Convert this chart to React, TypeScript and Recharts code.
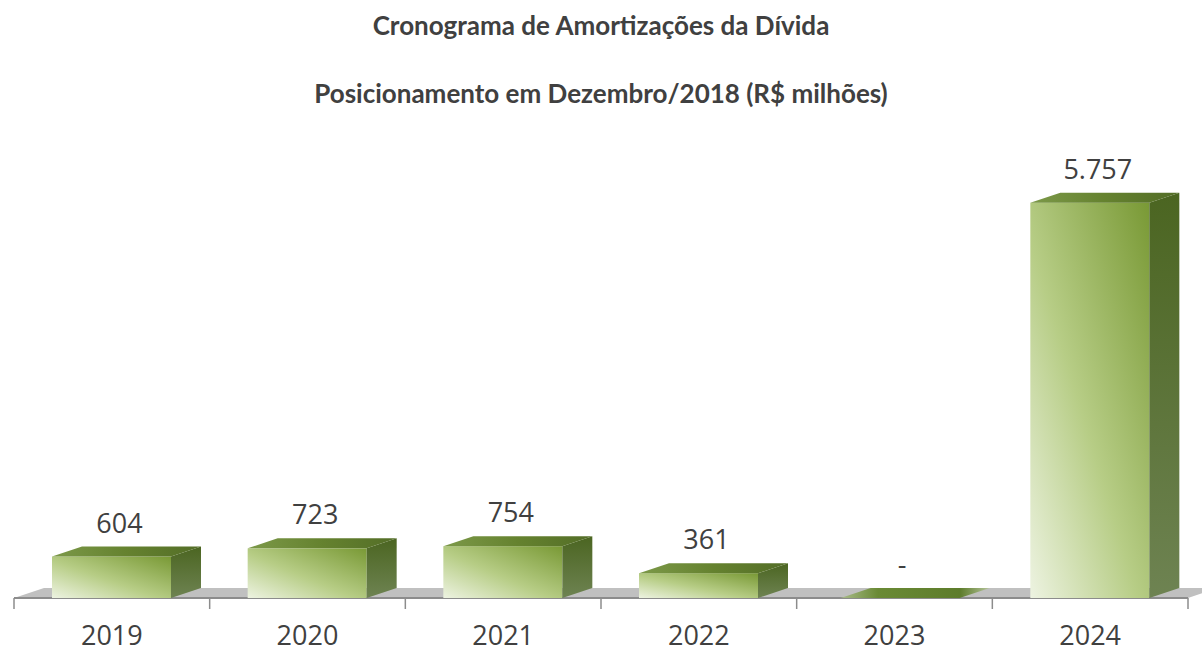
import React from 'react';
import { BarChart, Bar, XAxis, YAxis, LabelList } from 'recharts';

const categories = ['2019', '2020', '2021', '2022', '2023', '2024'];
const amortizations = [604, 723, 754, 361, 0, 5757];
const titleLines = ['Cronograma de Amortizações da Dívida', 'Posicionamento em Dezembro/2018 (R$ milhões)'];

const W = 1202;
const H = 651;
const M = { top: 186, right: 14, bottom: 0, left: 14 };
const AXIS_H = 53;
const FLOOR_Y = H - M.bottom - AXIS_H;
const DX = 30;
const DY = 10;
const TEXT = '#404040';

const data = categories.map((year, i) => ({ year, value: amortizations[i] }));

const fmt = (v: number) => (v === 0 ? '-' : String(v).replace(/\B(?=(\d{3})+(?!\d))/g, '.'));

const Box3D = (props: any) => {
  const { x, y, width, height } = props;
  const top = y;
  const bottom = y + height;
  if (!height || height <= 0) {
    // zero value: only the flat slab on the floor
    const b = FLOOR_Y;
    const sx = x + 6;
    return (
      <polygon
        points={`${sx},${b} ${sx + width},${b} ${sx + width + DX},${b - DY} ${sx + DX},${b - DY}`}
        fill="url(#slab)"
      />
    );
  }
  return (
    <g>
      <rect x={x} y={top} width={width} height={height} fill="url(#frontFace)" />
      <polygon
        points={`${x + width},${top} ${x + width + DX},${top - DY} ${x + width + DX},${bottom - DY} ${x + width},${bottom}`}
        fill="url(#sideFace)"
      />
      <polygon
        points={`${x},${top} ${x + width},${top} ${x + width + DX},${top - DY} ${x + DX},${top - DY}`}
        fill="url(#topFace)"
      />
    </g>
  );
};

const ValueLabel = (props: any) => {
  const { x, y, width, value } = props;
  return (
    <text x={x + width / 2 + 8} y={y - DY - 14} textAnchor="middle" fill={TEXT} fontSize={27} fontFamily="Open Sans">
      {fmt(value)}
    </text>
  );
};

const YearTick = (props: any) => {
  const { x, payload } = props;
  return (
    <text x={x} y={FLOOR_Y + 47} textAnchor="middle" fill={TEXT} fontSize={27} fontFamily="Open Sans">
      {payload.value}
    </text>
  );
};

const Floor = () => {
  const left = M.left;
  const right = W - M.right;
  const cat = (right - left) / categories.length;
  const ticks = Array.from({ length: categories.length + 1 }, (_, i) => left + i * cat);
  return (
    <svg width={W} height={H} style={{ position: 'absolute', left: 0, top: 0 }}>
      {titleLines.map((t, i) => (
        <text key={t} x={W / 2} y={35 + i * 68} textAnchor="middle" fill={TEXT} fontSize={26} fontWeight="bold" fontFamily="Lato">
          {t}
        </text>
      ))}
      <polygon
        points={`${left},${FLOOR_Y} ${right},${FLOOR_Y} ${right + DX},${FLOOR_Y - DY} ${left + DX},${FLOOR_Y - DY}`}
        fill="#c0c0c0"
      />
      <line x1={left} x2={right} y1={FLOOR_Y} y2={FLOOR_Y} stroke="#8c8c8c" strokeWidth={2} />
      {ticks.map((tx) => (
        <line key={tx} x1={tx} x2={tx} y1={FLOOR_Y} y2={FLOOR_Y + 11} stroke="#8c8c8c" strokeWidth={1.5} />
      ))}
    </svg>
  );
};

export default function App() {
  return (
    <div style={{ position: 'absolute', left: 0, top: 0, width: W, height: H, background: '#fff' }}>
      <Floor />
      <div style={{ position: 'absolute', left: 0, top: 0 }}>
        <BarChart width={W} height={H} data={data} margin={M}>
          <defs>
            <linearGradient id="frontFace" x1="0" y1="1" x2="1" y2="0">
              <stop offset="0" stopColor="#edf3e1" />
              <stop offset="0.45" stopColor="#b7cd86" />
              <stop offset="1" stopColor="#799935" />
            </linearGradient>
            <linearGradient id="sideFace" x1="0" y1="0" x2="0" y2="1">
              <stop offset="0" stopColor="#4b6521" />
              <stop offset="1" stopColor="#6e8352" />
            </linearGradient>
            <linearGradient id="topFace" x1="0" y1="0" x2="1" y2="0">
              <stop offset="0" stopColor="#7c9949" />
              <stop offset="0.5" stopColor="#65822f" />
              <stop offset="1" stopColor="#536d27" />
            </linearGradient>
            <linearGradient id="slab" x1="0" y1="0" x2="1" y2="0">
              <stop offset="0" stopColor="#a9bb8a" />
              <stop offset="0.25" stopColor="#6a8a35" />
              <stop offset="0.8" stopColor="#5d7c2b" />
              <stop offset="1" stopColor="#b5c49a" />
            </linearGradient>
          </defs>
          <XAxis dataKey="year" height={AXIS_H} axisLine={false} tickLine={false} tick={<YearTick />} interval={0} />
          <YAxis hide domain={[0, 6000]} />
          <Bar dataKey="value" barSize={119} shape={<Box3D />} isAnimationActive={false}>
            <LabelList dataKey="value" content={<ValueLabel />} />
          </Bar>
        </BarChart>
      </div>
    </div>
  );
}
